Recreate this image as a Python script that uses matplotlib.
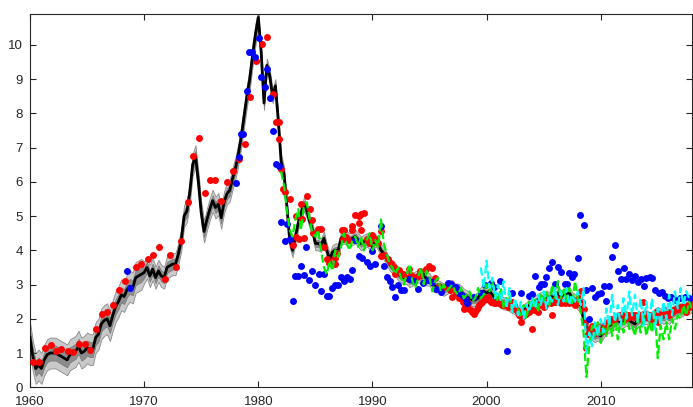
import numpy as np
import matplotlib
matplotlib.use("Agg")
import matplotlib.pyplot as plt

plt.rcParams['font.family'] = ['Liberation Sans', 'DejaVu Sans']

# ---- black estimate line, quarterly from 1960.0 ----
black_vals = [
    1.45, 0.9, 0.55, 0.65,   0.55, 0.8, 0.95, 1.0,   1.0, 1.0, 0.95, 0.9,
    0.85, 0.8, 0.95, 1.0,    1.05, 1.2, 1.0, 1.05,   1.15, 1.1, 1.1, 1.45,
    1.55, 1.85, 1.95, 2.0,   1.8, 2.1, 2.35, 2.5,    2.7, 2.65, 2.85, 2.95,
    2.9, 3.2, 3.25, 3.3,     3.35, 3.5, 3.25, 3.45,  3.2, 3.4, 3.25, 3.2,
    3.5, 3.55, 3.6, 3.6,     3.9, 4.3, 5.0, 5.15,    5.7, 6.5, 6.75, 6.0,
    5.1, 4.55, 4.9, 5.2,     5.45, 5.25, 5.35, 4.95, 5.4, 5.65, 5.75, 6.1,
    6.4, 6.8, 7.3, 7.9,      8.5, 9.0, 9.7, 10.3,    10.8, 9.8, 8.3, 9.4,
    9.1, 8.5, 8.8, 7.8,      6.6, 6.25, 5.3, 4.3,    4.0, 4.4, 4.8, 5.1,
    5.35, 5.15, 4.85, 4.6,   4.2, 4.2, 4.15, 4.35,   4.0, 3.72, 3.95, 4.0,
    4.0, 4.35, 4.4, 4.35,    4.3, 4.35, 4.4, 4.3,    4.2, 4.25, 4.3, 4.25,
    4.1, 4.3, 4.2, 4.0,      3.9, 3.75, 3.6, 3.5,    3.45, 3.3, 3.25, 3.2,
    3.2, 3.1, 3.15, 3.2,     3.25, 3.2, 3.3, 3.15,   3.15, 3.0, 2.95, 2.95,
    2.9, 2.85, 2.9, 2.95,    2.95, 2.85, 2.85, 2.8,  2.7, 2.65, 2.6, 2.55,
    2.55, 2.6, 2.75, 2.8,    2.75, 2.8, 2.7, 2.6,    2.55, 2.5, 2.45, 2.45,
    2.4, 2.35, 2.3, 2.2,     2.15, 2.25, 2.3, 2.4,   2.45, 2.5, 2.55, 2.6,
    2.6, 2.65, 2.6, 2.65,    2.7, 2.75, 2.65, 2.7,   2.7, 2.75, 2.6, 2.55,
    2.45, 2.35, 2.0, 1.75,   1.6, 1.55, 1.5, 1.55,   1.5, 1.65, 1.75, 1.8,
    1.85, 1.9, 1.95, 1.9,    1.95, 2.0, 1.95, 1.9,   1.85, 1.95, 2.0, 2.05,
    2.05, 2.0, 1.95, 2.1,    2.15, 2.1, 2.05, 2.1,   2.05, 2.15, 2.2, 2.25,
    2.25, 2.3, 2.35, 2.35,   2.4,
]
# half widths of the uncertainty bands, one value per decade (1960s ... 2010s)
outer_hw_decade = [0.45, 0.32, 0.2, 0.18, 0.18, 0.2]
inner_hw_decade = [0.22, 0.16, 0.1, 0.09, 0.09, 0.1]

# ---- red dots ----
red_years = [
    1960.3, 1960.8, 1961.3, 1961.8, 1962.3, 1962.75, 1963.3, 1963.8, 1964.3, 1964.8,
    1965.3, 1965.8, 1966.3, 1966.75, 1967.3, 1967.8, 1968.3, 1969.3, 1969.75, 1970.3,
    1970.8, 1971.3, 1971.8, 1972.3, 1972.75, 1973.25, 1973.8, 1974.3, 1974.8, 1975.3,
    1975.75, 1976.25, 1976.75, 1977.3, 1977.8, 1978.3, 1978.8, 1979.3, 1979.8, 1980.3,
    1980.8, 1981.3, 1981.55, 1981.8, 1981.8,
    1982.0, 1982.2, 1982.35, 1982.8, 1983.0, 1983.3, 1983.3, 1983.55, 1983.75, 1983.8,
    1984.0, 1984.3, 1984.5, 1984.7, 1984.8, 1985.2, 1985.5, 1985.75, 1986.0, 1986.2,
    1986.75, 1986.75, 1986.9, 1987.3, 1987.4, 1987.5, 1987.7, 1987.9, 1988.25, 1988.25,
    1988.5, 1988.8, 1988.8, 1989.0, 1989.3, 1989.0, 1989.5, 1989.7, 1990.0, 1990.25,
    1990.45, 1990.75, 1990.75, 1991.0, 1991.4, 1991.6, 1991.9, 1992.0, 1992.3, 1992.7,
    1993.0, 1993.2, 1993.4, 1993.8, 1994.0, 1994.2, 1994.7, 1995.0, 1995.25, 1995.5,
    1995.8, 1996.0, 1996.4, 1996.8, 1997.0, 1997.3, 1997.6, 1997.9,
    1998.0, 1998.25, 1998.5, 1998.75, 1999.0, 1999.25, 1999.5, 1999.75,
    2000.0, 2000.25, 2000.5, 2000.75, 2001.0, 2001.25, 2001.5, 2001.75,
    2002.0, 2002.25, 2002.5, 2002.75, 2003.0, 2003.25, 2003.5, 2003.75,
    2004.0, 2004.25, 2004.5, 2004.75, 2005.0, 2005.25, 2005.5, 2005.75,
    2006.0, 2006.25, 2006.5, 2006.75, 2007.0, 2007.25, 2007.5, 2007.75,
    2008.0, 2008.25, 2008.5, 2008.75, 2009.0, 2009.25, 2009.5, 2009.75,
    2010.0, 2010.25, 2010.5, 2010.75, 2011.0, 2011.25, 2011.5, 2011.75,
    2012.0, 2012.25, 2012.5, 2012.75, 2013.0, 2013.25, 2013.5, 2013.75,
    2014.0, 2014.25, 2014.5, 2014.75, 2015.0, 2015.25, 2015.5, 2015.75,
    2016.0, 2016.25, 2016.5, 2016.75, 2017.0, 2017.25, 2017.5, 2017.75,
]
red_vals = [
    0.75, 0.73, 1.16, 1.24, 1.07, 1.12, 1.06, 1.02, 1.26, 1.25,
    1.09, 1.69, 2.13, 2.21, 2.4, 2.84, 3.1, 3.5, 3.6, 3.75,
    3.85, 4.11, 3.16, 3.85, 3.52, 4.28, 5.4, 6.74, 7.27, 5.67,
    6.06, 6.06, 5.45, 5.98, 6.33, 6.67, 7.11, 8.49, 9.54, 10.02,
    10.24, 8.57, 7.76, 7.76, 7.25,
    6.37, 5.78, 5.69, 5.5, 4.16, 5.0, 4.4, 4.32, 5.35, 4.9,
    4.35, 5.59, 5.2, 4.89, 4.5, 4.62, 4.62, 4.1, 3.74, 3.64,
    3.77, 3.59, 3.93, 4.6, 4.32, 4.6, 4.4, 4.3, 4.71, 4.6,
    5.03, 5.0, 4.81, 5.05, 5.1, 4.6, 4.32, 4.2, 4.45, 4.32,
    4.22, 4.57, 3.82, 3.87, 3.75, 3.62, 3.52, 3.3, 3.43, 3.31,
    3.2, 3.45, 3.28, 3.23, 3.25, 3.41, 3.45, 3.54, 3.49, 3.2,
    2.96, 2.8, 2.92, 2.85, 2.65, 2.75, 2.6, 2.5,
    2.3, 2.4, 2.3, 2.2, 2.2, 2.35, 2.45, 2.55,
    2.6, 2.55, 2.5, 2.45, 2.5, 2.45, 2.4, 2.45,
    2.4, 2.5, 2.3, 2.2, 1.92, 2.1, 2.15, 2.2,
    1.7, 2.3, 2.2, 2.4, 2.35, 2.45, 2.5, 2.1,
    2.5, 2.55, 2.45, 2.55, 2.5, 2.45, 2.55, 2.4,
    2.55, 2.8, 2.3, 1.15, 1.7, 1.8, 1.6, 1.7,
    1.8, 1.65, 1.85, 1.95, 1.95, 2.0, 2.05, 2.1,
    2.1, 2.0, 2.05, 2.1, 2.1, 2.05, 2.0, 2.48,
    2.05, 2.1, 2.0, 2.15, 1.9, 2.1, 2.2, 2.15,
    2.1, 2.2, 2.25, 2.3, 2.3, 2.35, 2.2, 2.35,
]
# extra red readings between the quarters, 1998.125 onwards
red_mid_vals = [
    2.35, 2.45, 2.25, 2.15,  2.3, 2.4, 2.5, 2.6,    2.65, 2.5, 2.45, 2.5,
    2.45, 2.4, 2.5, 2.35,    2.45, 2.4, 2.25, 2.1,  2.05, 2.2, 2.25, 2.3,
    2.25, 2.35, 2.45, 2.5,   2.4, 2.5, 2.45, 2.55,  2.6, 2.5, 2.5, 2.45,
    2.55, 2.5, 2.45, 2.5,    2.6, 2.5, 1.9, 1.55,   1.65, 1.75, 1.7, 1.75,
    1.75, 1.8, 1.9, 2.0,     2.0, 2.05, 2.1, 2.05,  2.05, 2.1, 2.1, 2.05,
    2.05, 2.1, 2.05, 2.15,   2.1, 2.05, 2.1, 2.2,   2.1, 2.15, 2.25, 2.2,
    2.2, 2.25, 2.3, 2.35,    2.35, 2.3, 2.4, 2.45,
]

# ---- blue dots ----
blue_years = [
    1968.5, 1968.75, 1978.05, 1978.3, 1978.5, 1978.7, 1979.0, 1979.2, 1979.45, 1979.75,
    1980.05, 1980.28, 1980.55, 1980.78, 1981.04, 1981.27, 1981.55, 1981.8,
    1982.0, 1982.3, 1982.5, 1982.8, 1983.0, 1983.25, 1983.5, 1983.75, 1984.0, 1984.2,
    1984.45, 1984.75, 1985.0, 1985.3, 1985.5, 1985.8, 1986.0, 1986.2, 1986.5, 1986.75,
    1987.0, 1987.25, 1987.5, 1987.75, 1988.0, 1988.25, 1988.5, 1988.8, 1989.1, 1989.5,
    1989.8, 1990.0, 1990.25, 1990.75, 1991.0, 1991.25, 1991.5, 1991.75, 1992.0, 1992.2,
    1992.5, 1992.75, 1993.2, 1993.6, 1994.0, 1994.4, 1994.9, 1995.25, 1995.55, 1996.0,
    1996.6, 1996.9, 1997.3, 1997.6, 1997.9, 1998.2,
    1998.3, 1998.9, 1999.5, 1999.9, 2000.35, 2000.65, 2001.2, 2001.75, 2002.25, 2003.0,
    2003.7, 2003.95, 2004.25, 2004.6, 2004.8, 2005.0, 2005.25, 2005.5, 2005.75, 2006.0,
    2006.3, 2006.55, 2006.85, 2007.05, 2007.25, 2007.5, 2007.7, 2008.0, 2008.2, 2008.5,
    2008.75, 2009.0, 2009.25, 2009.5, 2009.75, 2010.0, 2010.3, 2010.5, 2010.75, 2011.0,
    2011.25, 2011.5, 2011.8, 2012.0, 2012.25, 2012.5, 2012.75, 2013.0, 2013.25, 2013.5,
    2013.8, 2014.0, 2014.3, 2014.5, 2014.8, 2015.1, 2015.4, 2015.65, 2015.9, 2016.2,
    2016.5, 2016.95, 2017.4, 2017.85,
]
blue_vals = [
    3.4, 2.89, 5.96, 6.71, 7.4, 7.4, 8.64, 9.8, 9.8, 9.63,
    10.2, 9.07, 8.76, 9.29, 8.44, 7.47, 6.52, 6.45,
    4.84, 4.28, 4.77, 4.32, 2.53, 3.26, 3.26, 3.55, 3.28, 4.09,
    3.13, 3.4, 2.99, 3.3, 2.82, 3.3, 2.67, 2.67, 2.89, 2.99,
    2.99, 3.23, 3.1, 3.21, 3.16, 3.43, 4.3, 3.84, 3.77, 3.67,
    3.54, 3.99, 3.59, 4.72, 3.54, 3.21, 3.1, 2.94, 2.63, 2.99,
    2.84, 2.84, 3.16, 3.11, 2.86, 3.06, 3.13, 3.08, 2.86, 2.79,
    3.06, 3.02, 2.94, 2.76, 2.67, 2.57,
    2.45, 2.65, 2.75, 2.99, 3.04, 2.92, 3.1, 1.07, 2.75, 2.76,
    2.67, 2.73, 3.26, 2.92, 3.02, 3.02, 3.23, 3.47, 3.67, 3.02,
    3.52, 3.38, 3.02, 3.02, 3.35, 3.23, 3.31, 3.77, 5.03, 4.74,
    2.84, 2.0, 2.91, 2.65, 2.72, 2.75, 2.96, 2.53, 2.96, 3.8,
    4.16, 3.41, 3.16, 3.49, 3.16, 3.3, 3.13, 3.26, 3.07, 3.16,
    2.97, 3.18, 3.21, 3.18, 2.84, 2.76, 2.79, 2.67, 2.6, 2.63,
    2.55, 2.6, 2.65, 2.6,
]

# ---- green dashed series, quarterly from 1982.0 ----
green_vals = [
    6.3, 5.9, 5.2, 4.6,   4.4, 4.9, 5.2, 4.6,   5.3, 5.4, 4.9, 4.5,
    4.4, 4.6, 4.0, 3.5,   3.3, 3.7, 3.4, 4.0,   3.8, 4.1, 4.5, 4.2,
    4.0, 4.3, 4.4, 4.1,   4.4, 4.0, 4.3, 4.5,   4.0, 4.3, 4.1, 4.9,
    4.2, 3.9, 3.6, 3.5,   3.3, 3.5, 3.2, 3.0,   3.3, 3.6, 3.1, 2.9,
    3.2, 3.5, 3.0, 3.4,   3.2, 2.8, 3.1, 3.2,   2.8, 3.0, 2.8, 2.9,
    3.0, 2.8, 2.7, 2.9,   2.6, 2.7, 2.8, 2.5,   2.6, 2.9, 2.6, 2.7,
    3.0, 2.8, 3.1, 2.7,   2.5, 2.9, 2.3, 2.6,   2.7, 2.2, 2.5, 2.3,
    2.1, 2.4, 2.0, 2.5,   2.3, 2.6, 2.2, 2.7,   2.5, 2.8, 2.4, 3.0,
    2.6, 3.1, 2.6, 2.9,   2.5, 2.9, 2.4, 3.1,   2.6, 2.2, 1.6, 0.3,
    1.2, 1.8, 1.5, 1.9,   1.3, 1.8, 1.5, 2.0,   1.5, 2.1, 1.4, 2.0,
    1.6, 2.2, 1.7, 1.8,   1.5, 2.0, 1.6, 2.1,   1.5, 1.9, 1.6, 2.2,
    0.85, 1.8, 1.4, 1.9,  1.4, 2.0, 1.7, 2.1,   2.0, 2.4, 2.1, 2.5,
    2.3,
]

# ---- cyan dashed series, quarterly from 1999.5 ----
cyan_vals = [
    3.5, 2.9,
    3.7, 2.9, 3.2, 2.6,   3.0, 2.5, 3.1, 2.3,   2.9, 2.2, 2.6, 2.1,
    2.5, 2.0, 2.4, 2.2,   2.6, 2.3, 2.7, 2.4,   2.8, 2.3, 2.7, 2.5,
    2.9, 2.4, 2.8, 2.5,   2.9, 2.4, 2.7, 2.5,   2.8, 2.4, 2.9, 1.0,
    1.6, 1.2, 1.9, 1.5,   2.0, 1.6, 2.3, 1.8,   2.7, 1.9, 2.4, 1.8,
    2.6, 2.0, 2.8, 2.1,   2.7, 1.9, 2.6, 1.8,   2.5, 1.9, 2.6, 1.7,
    2.3, 1.8, 2.5, 2.0,   2.7, 2.1, 2.8, 2.3,   2.9, 2.4, 2.8, 2.6,
    2.7,
]

black_t = 1960 + np.arange(len(black_vals)) / 4
green_t = 1982 + np.arange(len(green_vals)) / 4
cyan_t = 1999.5 + np.arange(len(cyan_vals)) / 4
red_mid_t = 1998.125 + np.arange(len(red_mid_vals)) / 4

black = np.array(black_vals)
decade_idx = np.clip(((black_t - 1960) // 10).astype(int), 0, 5)
outer_hw = np.array(outer_hw_decade)[decade_idx]
inner_hw = np.array(inner_hw_decade)[decade_idx]

fig = plt.figure(figsize=(6.93, 4.07), dpi=100)
ax = fig.add_axes([30 / 693, 19.7 / 407, 662 / 693, 373.3 / 407])

ax.fill_between(black_t, black - outer_hw, black + outer_hw,
                facecolor='#c9c9c9', edgecolor='#8a8a8a', lw=0.6, zorder=1)
ax.fill_between(black_t, black - inner_hw, black + inner_hw,
                facecolor='#8c8c8c', edgecolor='#6e6e6e', lw=0.4, zorder=2)
ax.plot(black_t, black, color='black', lw=2.0, zorder=3)

ax.plot(red_years, red_vals, 'o', color='#ff0000', ms=5, mew=0, zorder=4)
ax.plot(red_mid_t, red_mid_vals, 'o', color='#ff0000', ms=5, mew=0, zorder=4)
ax.plot(blue_years, blue_vals, 'o', color='#0000ff', ms=5, mew=0, zorder=5)
ax.plot(green_t, green_vals, '--', color='#00ee00', lw=1.6, zorder=6)
ax.plot(cyan_t, cyan_vals, '--', color='#00ffff', lw=1.6, zorder=7)

ax.set_xlim(1960, 2018)
ax.set_ylim(0, 10.9)
ax.set_xticks([1960, 1970, 1980, 1990, 2000, 2010])
ax.set_yticks(range(0, 11))
ax.tick_params(direction='in', top=True, right=True, length=4.5, width=0.8,
               labelsize=9.5, colors='#262626')
ax.tick_params(axis='x', pad=6)
ax.tick_params(axis='y', pad=5)
for s in ax.spines.values():
    s.set_color('#262626')
    s.set_linewidth(0.8)

fig.savefig('out.png', dpi=100)
